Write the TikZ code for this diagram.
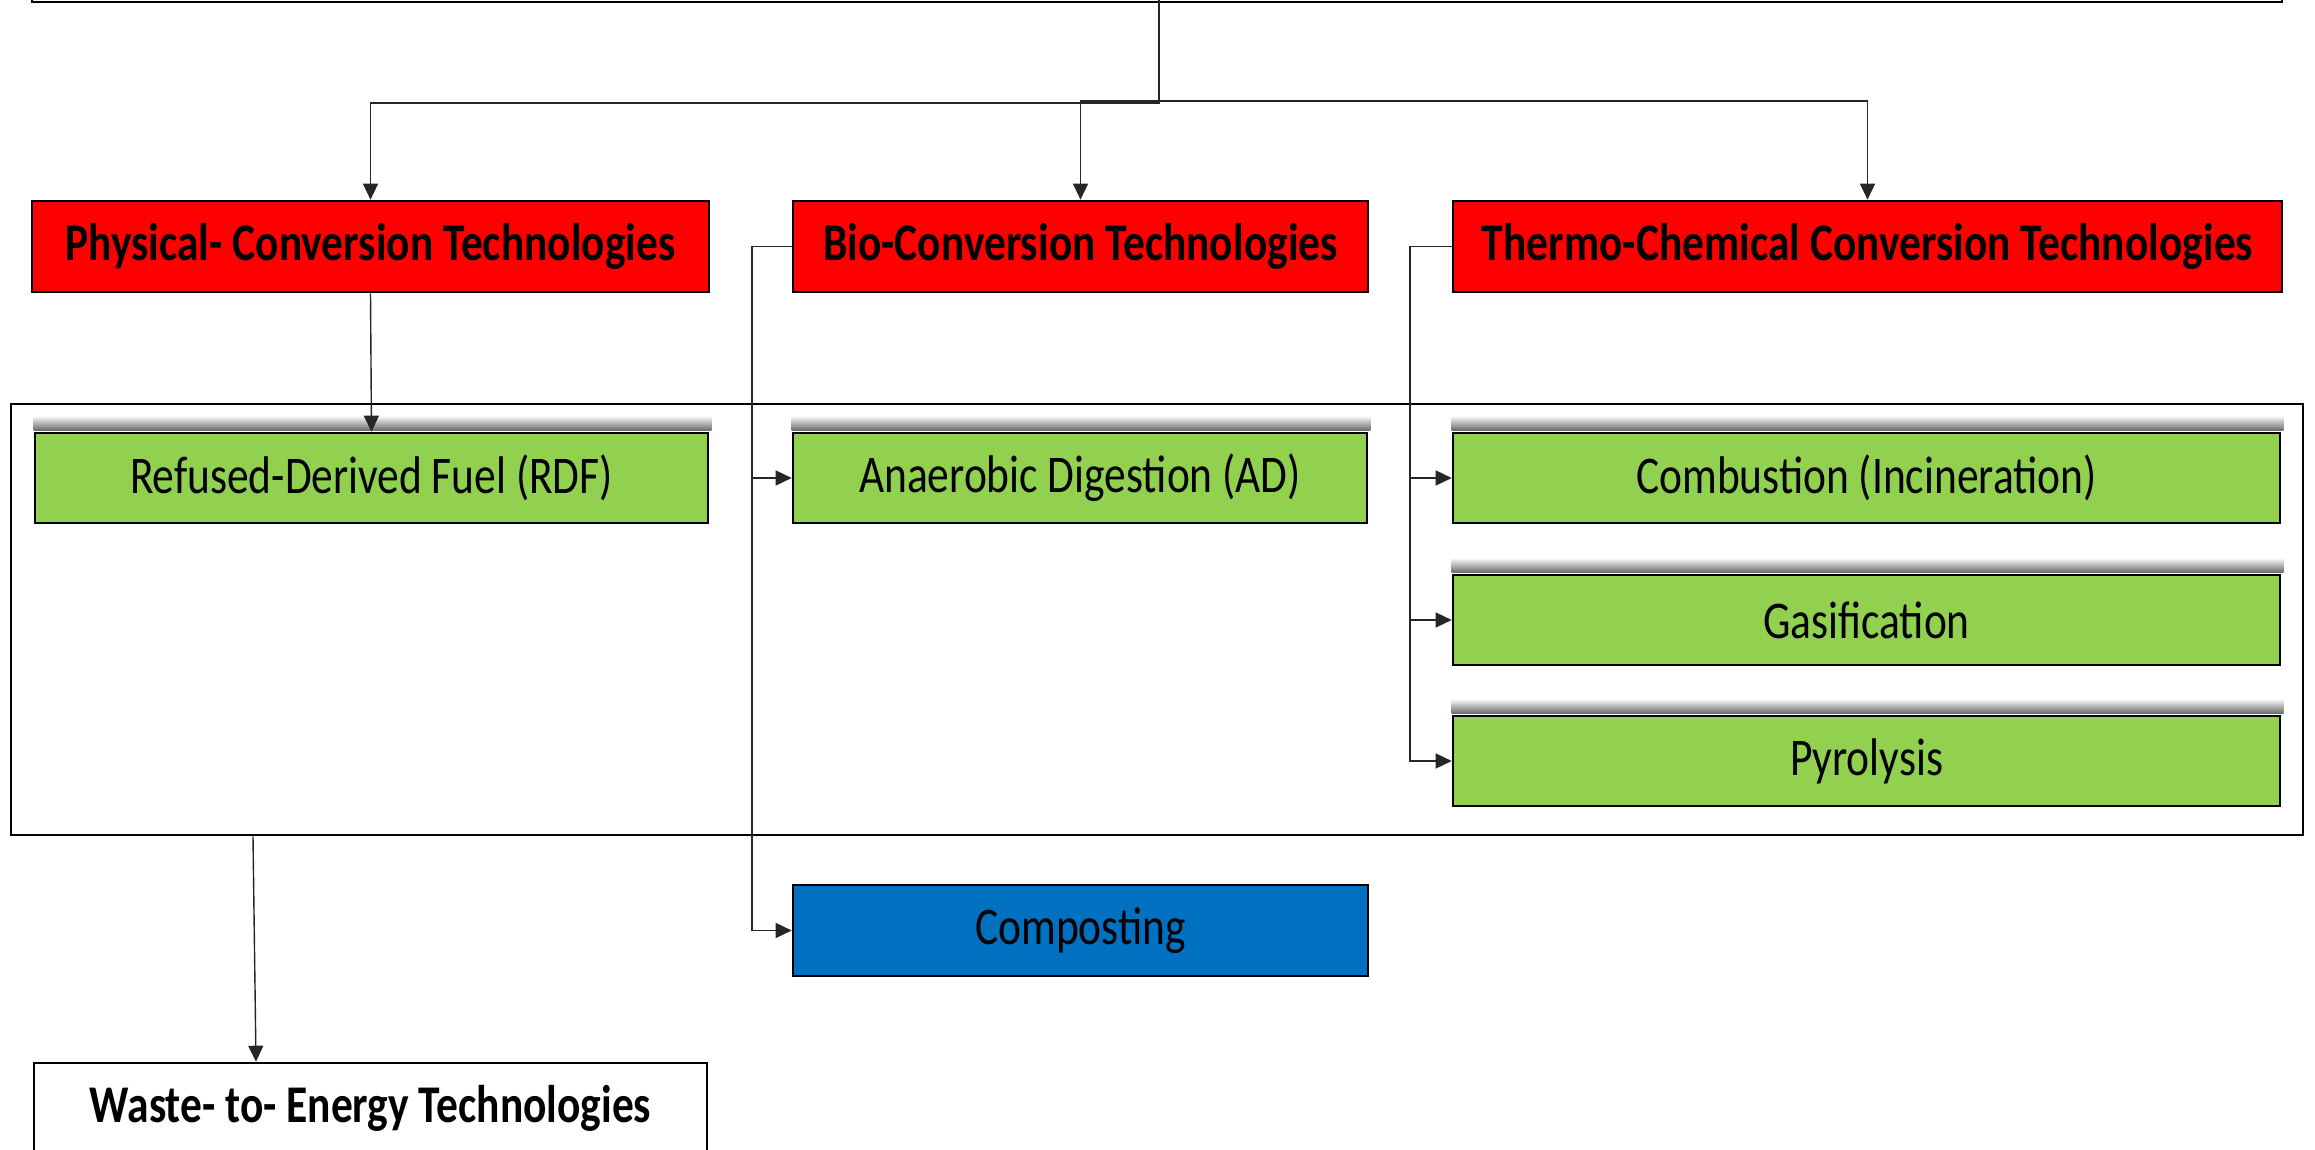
\documentclass[tikz,border=0pt]{standalone}
\usepackage{fontspec}
\setmainfont{Carlito}[FakeStretch=0.82]
\usetikzlibrary{arrows.meta,calc}
\definecolor{boxred}{HTML}{FF0000}
\definecolor{boxgreen}{HTML}{92D050}
\definecolor{boxblue}{HTML}{0070C0}
\begin{document}
\begin{tikzpicture}[x=1pt,y=-1pt,
  every node/.style={font=\fontsize{53}{60}\selectfont, inner sep=0pt, align=center},
  framed/.style={draw=black, line width=2.6pt},
  redbox/.style={framed, fill=boxred, font=\fontsize{53}{60}\selectfont\bfseries},
  greenbox/.style={framed, fill=boxgreen},
  bluebox/.style={framed, fill=boxblue},
  whitebox/.style={framed, fill=white, font=\fontsize{53}{60}\selectfont\bfseries},
  conn/.style={draw=black!85, line width=1.4pt},
  arr/.style={conn, -{Triangle[length=16pt,width=15pt]}}]
\useasboundingbox (0,0) rectangle (2315,1150);
\clip (0,0) rectangle (2315,1150);

% title box (only its lower edge falls inside the page)
\node[framed, fill=white, minimum width=2250pt, minimum height=82pt] (top) at (1157,-39) {};

% technology groups
\node[redbox, minimum width=677pt, minimum height=91pt] (phys) at (370.5,246.5) {Physical- Conversion Technologies};
\node[redbox, minimum width=575pt, minimum height=91pt] (bio) at (1080.5,246.5) {Bio-Conversion Technologies};
\node[redbox, minimum width=829pt, minimum height=91pt] (thermo) at (1867.5,246.5) {Thermo-Chemical Conversion Technologies};

% frame around the energy-producing routes
\node[framed, minimum width=2292pt, minimum height=431pt] (group) at (1157,619.5) {};

\node[greenbox, minimum width=673pt, minimum height=90pt] (rdf) at (371.5,478) {Refused-Derived Fuel (RDF)};
\node[greenbox, minimum width=574pt, minimum height=90pt] (ad) at (1080,478) {Anaerobic Digestion (AD)};
\node[greenbox, minimum width=827pt, minimum height=90pt] (comb) at (1866.5,478) {Combustion (Incineration)};
\node[greenbox, minimum width=827pt, minimum height=90pt] (gas) at (1866.5,620) {Gasification};
\node[greenbox, minimum width=827pt, minimum height=90pt] (pyro) at (1866.5,761) {Pyrolysis};

\node[bluebox, minimum width=575pt, minimum height=91pt] (comp) at (1080.5,930.5) {Composting};

\node[whitebox, minimum width=673pt, minimum height=90pt] (wte) at (370.5,1108) {Waste- to- Energy Technologies};

% soft shadows above the green boxes
\foreach \n in {rdf,ad,comb,gas,pyro}{
  \shade[top color=white, middle color=black!30, bottom color=black!58]
    ($(\n.north west)+(0,-16)$) rectangle ($(\n.north east)+(2,-1.4)$);
}

% connectors
\coordinate (split) at (1159,0);
\draw[arr] (split) -- (1159,103) -| (phys.north);
\draw[arr] (split) -- (1159,101) -| (bio.north);
\draw[arr] (split) -- (1159,101) -| (thermo.north);

\draw[arr] (phys.south) -- (rdf.north);

\coordinate (biobus) at (752,246.5);
\draw[arr] (bio.west) -- (biobus) |- (ad.west);
\draw[arr] (biobus) |- (comp.west);

\coordinate (thbus) at (1410,246.5);
\draw[arr] (thermo.west) -- (thbus) |- (comb.west);
\draw[arr] (thbus) |- (gas.west);
\draw[arr] (thbus) |- (pyro.west);

\draw[arr] (group.south -| 253,0) -- (wte.north -| 256,0);
\end{tikzpicture}
\end{document}
